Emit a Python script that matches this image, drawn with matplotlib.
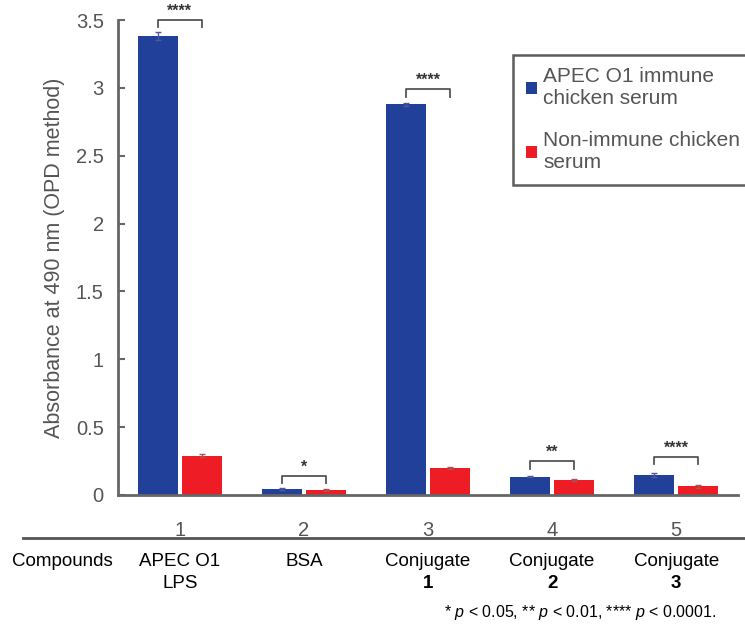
import matplotlib.pyplot as plt
import numpy as np
from matplotlib.transforms import blended_transform_factory

plt.rcParams['font.family'] = ['Liberation Sans', 'DejaVu Sans']
plt.rcParams['mathtext.fontset'] = 'custom'
plt.rcParams['mathtext.it'] = 'Liberation Sans:italic'
plt.rcParams['mathtext.rm'] = 'Liberation Sans'

groups = [1, 2, 3, 4, 5]
immune = [3.38, 0.045, 2.88, 0.135, 0.15]
immune_err = [0.03, 0.005, 0.01, 0.005, 0.015]
nonimmune = [0.29, 0.037, 0.20, 0.11, 0.065]
nonimmune_err = [0.01, 0.005, 0.01, 0.008, 0.01]
compounds = ['APEC O1', 'BSA', 'Conjugate', 'Conjugate', 'Conjugate']
compounds2 = ['LPS', '', '1', '2', '3']
stars = ['****', '*', '****', '**', '****']
bracket_y = [3.5, 0.14, 2.99, 0.25, 0.28]

blue = '#21409a'
red = '#ee1c24'
gray = '#666666'

fig = plt.figure(figsize=(7.45, 6.25), dpi=100)
ax = fig.add_axes([0.158, 0.208, 0.833, 0.760])

x = np.array(groups)
w = 0.32
off = 0.177
ax.bar(x - off, immune, w, color=blue, yerr=immune_err, ecolor='#555599',
       capsize=2, error_kw={'elinewidth': 1}, label='APEC O1 immune\nchicken serum')
ax.bar(x + off, nonimmune, w, color=red, yerr=nonimmune_err, ecolor='#aa5555',
       capsize=2, error_kw={'elinewidth': 1}, label='Non-immune chicken\nserum')

# significance brackets
for i in range(len(groups)):
    y = bracket_y[i]
    h = 0.055
    ax.plot([x[i] - off, x[i] - off, x[i] + off, x[i] + off], [y - h, y, y, y - h],
            color='#555555', lw=1.3, clip_on=False)
    ax.text(x[i], y + 0.012, stars[i], ha='center', va='bottom', fontsize=11.5,
            fontweight='bold', color='#333333', clip_on=False)

ax.set_xlim(0.5, 5.5)
ax.set_ylim(0, 3.5)
ax.set_yticks([0, 0.5, 1, 1.5, 2, 2.5, 3, 3.5])
ax.set_yticklabels(['0', '0.5', '1', '1.5', '2', '2.5', '3', '3.5'])
ax.set_xticks(groups)
ax.set_xticklabels([str(g) for g in groups])
ax.tick_params(axis='y', direction='in', length=5, width=1.5, color=gray,
               labelcolor='#555555', labelsize=14.5, pad=10)
ax.tick_params(axis='x', length=0, labelcolor='#555555', labelsize=14.5, pad=19)
for s in ['top', 'right']:
    ax.spines[s].set_visible(False)
for s in ['left', 'bottom']:
    ax.spines[s].set_color(gray)
    ax.spines[s].set_linewidth(2)
ax.set_ylabel('Absorbance at 490 nm (OPD method)', fontsize=15.5, color='#555555',
              labelpad=8)

leg = ax.legend(loc='upper left', bbox_to_anchor=(513 / 745, 1 - 55 / 625),
                bbox_transform=fig.transFigure, fontsize=15, frameon=True,
                fancybox=False, handlelength=0.55, handleheight=0.55,
                handletextpad=0.3, labelspacing=1.1, borderpad=0.6,
                borderaxespad=0)
leg.get_frame().set_edgecolor('#333333')
leg.get_frame().set_linewidth(1.8)
for t in leg.get_texts():
    t.set_color('#555555')

# compound table under the axis
fig.add_artist(plt.Line2D([23 / 745, 1], [1 - 538 / 625] * 2, color='#555555', lw=2))
tr = blended_transform_factory(ax.transData, fig.transFigure)
fig.text(62 / 745, 1 - 561 / 625, 'Compounds', ha='center', va='center', fontsize=13.5)
for i in range(len(groups)):
    ax.text(x[i], 1 - 561 / 625, compounds[i], transform=tr, ha='center',
            va='center', fontsize=13.5, clip_on=False)
    if compounds2[i]:
        bold = compounds2[i].isdigit()
        ax.text(x[i], 1 - 583 / 625, compounds2[i], transform=tr, ha='center',
                va='center', fontsize=13.5, clip_on=False,
                fontweight='bold' if bold else 'normal')

fig.text(580 / 745, 1 - 612 / 625,
         r'* $\mathit{p}$ < 0.05, ** $\mathit{p}$ < 0.01, **** $\mathit{p}$ < 0.0001.',
         ha='center', va='center', fontsize=11.5)

fig.savefig('out.png', dpi=100)
